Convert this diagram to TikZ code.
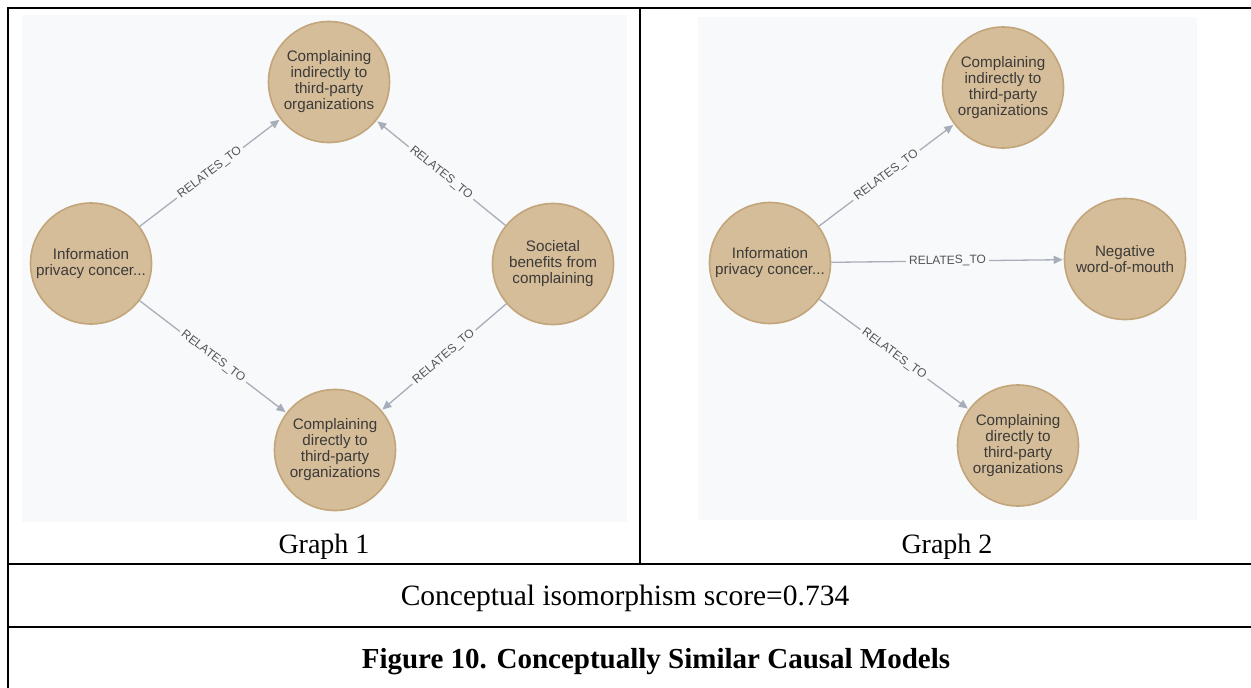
\documentclass[tikz,border=0pt]{standalone}
\usepackage{fontspec}
\setmainfont{Liberation Serif}
\newfontfamily\graphfont{Liberation Sans}
\usetikzlibrary{arrows.meta}
\definecolor{panelbg}{HTML}{F8F9FB}
\definecolor{nodefill}{HTML}{D5BD99}
\definecolor{nodeline}{HTML}{C2A57A}
\definecolor{edgecol}{HTML}{A8AEB9}
\definecolor{nodetext}{HTML}{3C3A38}
\definecolor{labeltext}{HTML}{545454}

\begin{document}
\begin{tikzpicture}[x=1pt,y=-1pt,
  concept/.style={circle, fill=nodefill, draw=nodeline, line width=1.6pt,
    minimum size=121pt, inner sep=0pt, align=center, text=nodetext,
    font=\graphfont\fontsize{15.2}{16}\selectfont},
  rel/.style={draw=edgecol, line width=1.3pt,
    -{Triangle[length=9pt,width=8pt]}, shorten >=1pt},
  rellabel/.style={sloped, fill=panelbg, inner sep=3pt, text=labeltext,
    font=\graphfont\fontsize{12}{12}\selectfont},
  rule/.style={line width=2.5pt},
  panel/.style={fill=panelbg, draw=none},
  celltext/.style={anchor=base, font=\fontsize{28}{30}\selectfont},
  rowtext/.style={anchor=base, font=\fontsize{29.5}{31}\selectfont}
]
\useasboundingbox (0,0) rectangle (1251,688);

% table rules
\draw[rule] (8,8) -- (1251,8);
\draw[rule] (8,6.75) -- (8,688);
\draw[rule] (640,8) -- (640,564);
\draw[rule] (8,564) -- (1251,564);
\draw[rule] (8,627) -- (1251,627);

% graph panels
\fill[panel] (22,15) rectangle (627,522);
\fill[panel] (698,17) rectangle (1197,520);

% Graph 1
\node[concept] (a1) at (91,263.5) {Information\\privacy concer...};
\node[concept] (b1) at (329,82) {Complaining\\indirectly to\\third-party\\organizations};
\node[concept] (c1) at (553,264) {Societal\\benefits from\\complaining};
\node[concept] (d1) at (335,450) {Complaining\\directly to\\third-party\\organizations};

\draw[rel] (a1) -- node[rellabel] {RELATES\_TO} (b1);
\draw[rel] (c1) -- node[rellabel] {RELATES\_TO} (b1);
\draw[rel] (a1) -- node[rellabel] {RELATES\_TO} (d1);
\draw[rel] (c1) -- node[rellabel] {RELATES\_TO} (d1);

% Graph 2
\node[concept] (a2) at (770,263) {Information\\privacy concer...};
\node[concept] (b2) at (1003,87.5) {Complaining\\indirectly to\\third-party\\organizations};
\node[concept] (c2) at (1125,259) {Negative\\word-of-mouth};
\node[concept] (d2) at (1018,445.5) {Complaining\\directly to\\third-party\\organizations};

\draw[rel] (a2) -- node[rellabel] {RELATES\_TO} (b2);
\draw[rel] (a2) -- node[rellabel] {RELATES\_TO} (c2);
\draw[rel] (a2) -- node[rellabel] {RELATES\_TO} (d2);

% captions
\node[celltext] (g1) at (324,553) {Graph 1};
\node[celltext] (g2) at (947,553) {Graph 2};
\node[rowtext] (score) at (625,605) {Conceptual isomorphism score=0.734};
\node[rowtext, font=\bfseries\fontsize{29}{31}\selectfont] (fig) at (656,668) {Figure 10. Conceptually Similar Causal Models};
\end{tikzpicture}
\end{document}
